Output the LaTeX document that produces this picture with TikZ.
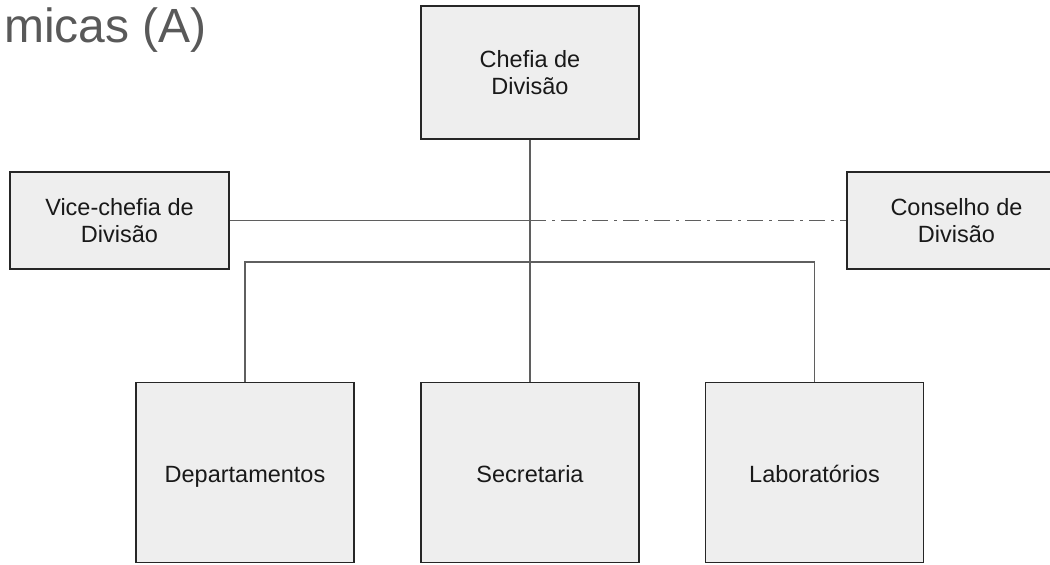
\documentclass[tikz,border=0pt]{standalone}
\usepackage{fontspec}
\setmainfont{Liberation Sans}
\definecolor{boxfill}{HTML}{EEEEEE}
\definecolor{linegray}{HTML}{5F5F5F}
\definecolor{titlegray}{HTML}{595959}
\tikzset{
  orgbox/.style={draw=black!85, line width=1.5pt, fill=boxfill, inner sep=0pt,
    align=center, font=\fontsize{23.5}{27}\selectfont, text=black!90},
  unitbox/.style={orgbox, minimum width=218pt, minimum height=180pt,
    text height=21pt, text depth=1pt},
  link/.style={draw=linegray, line width=1.2pt},
  dashdotlink/.style={link, dash pattern=on 16pt off 6pt on 3pt off 6pt}
}
\begin{document}
\begin{tikzpicture}[x=1pt,y=-1pt]
\useasboundingbox (0,0) rectangle (1050,565);
\node[font=\fontsize{48}{54}\selectfont, text=titlegray, anchor=base west, inner sep=0pt] (title) at (4,42) {micas (A)};
\node[orgbox, minimum width=218pt, minimum height=133pt] (chefia) at (530,72.5) {Chefia de\\Divisão};
\node[orgbox, minimum width=219pt, minimum height=97pt] (vice) at (119.5,220.5) {Vice-chefia de\\Divisão};
\node[orgbox, minimum width=219pt, minimum height=97pt] (cons) at (956.5,220.5) {Conselho de\\Divisão};
\node[unitbox] (dep) at (245,472.5) {Departamentos};
\node[unitbox] (sec) at (530,472.5) {Secretaria};
\node[unitbox] (lab) at (814.5,472.5) {Laboratórios};
\coordinate (bus) at (530,262);
\coordinate (cross) at (530,220.5);
\draw[link] (chefia.south) -- (sec.north);
\draw[link] (vice.east) -- (cross);
\draw[dashdotlink] (cross) -- (cons.west);
\draw[link] (dep.north) |- (bus) -| (lab.north);
\end{tikzpicture}
\end{document}
